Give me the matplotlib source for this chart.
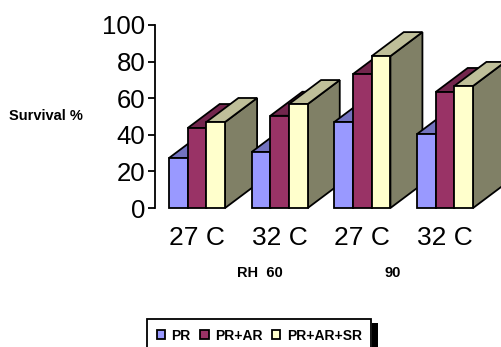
import matplotlib
matplotlib.use("Agg")
import matplotlib.pyplot as plt
from matplotlib.patches import Polygon, Rectangle

plt.rcParams['font.family'] = ['Liberation Sans', 'DejaVu Sans']

categories = ["27 C", "32 C", "27 C", "32 C"]
series_names = ["PR", "PR+AR", "PR+AR+SR"]
pr = [27.3, 30.6, 47, 40.4]
pr_ar = [43.7, 50.4, 73.2, 63.4]
pr_ar_sr = [47, 56.8, 83, 66.7]
y_ticks = [0, 20, 40, 60, 80, 100]

front = ["#9999FF", "#993366", "#FFFFCC"]
top = ["#7373BF", "#73264D", "#BFBF99"]
side = ["#737399", "#73264D", "#808066"]

W, H = 502, 347
step = 82.67
fig = plt.figure(figsize=(W / 100, H / 100), dpi=100)
ax = fig.add_axes([155.7 / W, 1 - 208 / H, 4 * step / W, 183 / H])
ax.set_xlim(-0.5, 3.5)
ax.set_ylim(0, 100)

bar_w = 18.7 / step
dx = 32 / step
dy = 24 / 183 * 100
lw = 1.3


def draw_bar(x0, val, i):
    x1 = x0 + bar_w
    kw = dict(edgecolor="black", linewidth=lw, clip_on=False, joinstyle="miter")
    ax.add_patch(Polygon([(x1, 0), (x1 + dx, dy), (x1 + dx, val + dy), (x1, val)], facecolor=side[i], **kw))
    ax.add_patch(Polygon([(x0, val), (x0 + dx, val + dy), (x1 + dx, val + dy), (x1, val)], facecolor=top[i], **kw))
    ax.add_patch(Polygon([(x0, 0), (x1, 0), (x1, val), (x0, val)], facecolor=front[i], **kw))


for c in range(len(categories)):
    for i, vals in enumerate([pr, pr_ar, pr_ar_sr]):
        draw_bar(c - 1.5 * bar_w + i * bar_w, vals[c], i)

for s in ["top", "right", "bottom"]:
    ax.spines[s].set_visible(False)
ax.spines["left"].set_position(("outward", 0.5))
ax.spines["left"].set_linewidth(1.3)
ax.set_yticks(y_ticks)
ax.set_xticks(range(len(categories)))
ax.set_xticklabels(categories)
ax.tick_params(axis="y", labelsize=18.5, length=5, width=1.3, pad=2)
ax.tick_params(axis="x", labelsize=19, length=0, pad=13)

fig.text(9 / W, 1 - 116 / H, "Survival %", fontsize=10.5, fontweight="bold", va="center", ha="left")
fig.text(237 / W, 1 - 273 / H, "RH  60", fontsize=10.5, fontweight="bold", va="center", ha="left")
fig.text(385 / W, 1 - 273 / H, "90", fontsize=10.5, fontweight="bold", va="center", ha="left")

# legend box runs off the bottom of the picture, black shadow on the right
fig.add_artist(Rectangle((372 / W, -0.02), 6 / W, 1 - 323 / H + 0.02, transform=fig.transFigure,
                         facecolor="black", edgecolor="none"))
handles = [Rectangle((0, 0), 1, 1, facecolor=c, edgecolor="black", linewidth=1.3) for c in front]
leg = fig.legend(handles, series_names, loc="upper left", bbox_to_anchor=(147 / W, 1 - 319 / H),
                 borderaxespad=0, ncol=3, prop={"weight": "bold", "size": 10},
                 fancybox=False, framealpha=1, edgecolor="black", handlelength=0.6, handleheight=0.6,
                 handletextpad=0.45, columnspacing=0.7, borderpad=0.7)
leg.get_frame().set_linewidth(1.3)

fig.savefig("out.png", dpi=100)
